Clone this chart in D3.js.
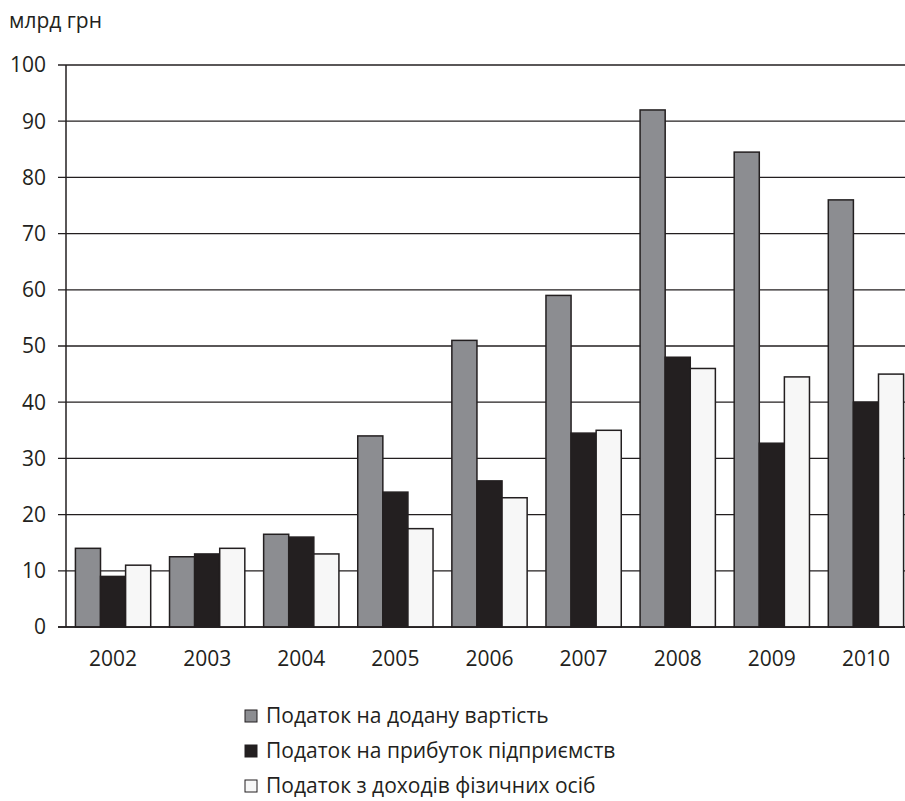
<!DOCTYPE html>
<html lang="uk">
<head>
    <meta charset="UTF-8">
    <title>Податкові надходження</title>
    <script src="https://d3js.org/d3.v7.min.js"></script>
    <style>
        body { margin: 0; background: #fff; }
        text { font-family: "Open Sans", sans-serif; fill: #231f20; }
        .tick-label { font-size: 21px; }
        .unit-label { font-size: 21px; }
        .legend-label { font-size: 21px; }
    </style>
</head>
<body>
    <svg width="905" height="801"></svg>
    <script>
        // Data
        const years = ["2002", "2003", "2004", "2005", "2006", "2007", "2008", "2009", "2010"];
        const vat = [14, 12.5, 16.5, 34, 51, 59, 92, 84.5, 76];
        const profitTax = [9, 13, 16, 24, 26, 34.5, 48, 32.7, 40];
        const incomeTax = [11, 14, 13, 17.5, 23, 35, 46, 44.5, 45];
        const seriesNames = ["Податок на додану вартість", "Податок на прибуток підприємств", "Податок з доходів фізичних осіб"];
        const yTicks = [0, 10, 20, 30, 40, 50, 60, 70, 80, 90, 100];

        const colors = ["#8c8d91", "#231f20", "#f7f7f7"];
        const seriesValues = [vat, profitTax, incomeTax];
        const data = years.map((yr, i) => ({ year: yr, values: seriesValues.map(s => s[i]) }));

        const plot = { left: 66, right: 913, top: 65, bottom: 627 };

        const svg = d3.select("svg");

        const x = d3.scaleBand().domain(years).range([plot.left, plot.right]).paddingInner(0.2).paddingOuter(0.1);
        const x1 = d3.scaleBand().domain(d3.range(3)).range([0, x.bandwidth()]);
        const y = d3.scaleLinear().domain([0, 100]).range([plot.bottom, plot.top]);

        // Grid lines
        svg.append("g")
            .selectAll("line")
            .data(yTicks)
            .join("line")
            .attr("x1", plot.left - 8)
            .attr("x2", 905)
            .attr("y1", d => y(d))
            .attr("y2", d => y(d))
            .attr("stroke", "#231f20")
            .attr("stroke-width", 1.3);

        // Y axis labels
        svg.append("g")
            .selectAll("text")
            .data(yTicks)
            .join("text")
            .attr("class", "tick-label")
            .attr("x", 46)
            .attr("y", d => y(d))
            .attr("dy", "0.35em")
            .attr("text-anchor", "end")
            .text(d => d);

        // Bars
        svg.append("g")
            .selectAll("g")
            .data(data)
            .join("g")
            .attr("transform", d => `translate(${x(d.year)},0)`)
            .selectAll("rect")
            .data(d => d.values)
            .join("rect")
            .attr("x", (d, i) => x1(i))
            .attr("y", d => y(d))
            .attr("width", x1.bandwidth())
            .attr("height", d => y(0) - y(d))
            .attr("fill", (d, i) => colors[i])
            .attr("stroke", "#231f20")
            .attr("stroke-width", 1.5);

        // Axis lines
        svg.append("line")
            .attr("x1", plot.left).attr("x2", plot.left)
            .attr("y1", plot.top).attr("y2", plot.bottom)
            .attr("stroke", "#231f20").attr("stroke-width", 1.5);
        svg.append("line")
            .attr("x1", plot.left - 8).attr("x2", 905)
            .attr("y1", plot.bottom).attr("y2", plot.bottom)
            .attr("stroke", "#231f20").attr("stroke-width", 1.5);

        // X labels
        svg.append("g")
            .selectAll("text")
            .data(years)
            .join("text")
            .attr("class", "tick-label")
            .attr("x", d => x(d) + x.bandwidth() / 2)
            .attr("y", 666)
            .attr("text-anchor", "middle")
            .text(d => d);

        // Unit label
        svg.append("text")
            .attr("class", "unit-label")
            .attr("x", 9)
            .attr("y", 28)
            .text("млрд грн");

        // Legend
        const legend = svg.append("g")
            .selectAll("g")
            .data(seriesNames)
            .join("g")
            .attr("transform", (d, i) => `translate(245,${716 + i * 35})`);
        legend.append("rect")
            .attr("x", 0).attr("y", -6)
            .attr("width", 12).attr("height", 12)
            .attr("fill", (d, i) => colors[i])
            .attr("stroke", "#231f20")
            .attr("stroke-width", 1);
        legend.append("text")
            .attr("class", "legend-label")
            .attr("x", 21)
            .attr("dy", "0.35em")
            .text(d => d);
    </script>
</body>
</html>
